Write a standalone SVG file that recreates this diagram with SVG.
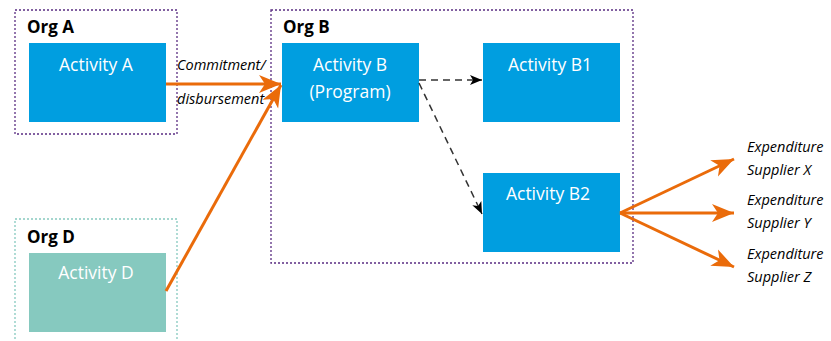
<svg xmlns="http://www.w3.org/2000/svg" width="831" height="341" viewBox="0 0 831 341">
<style>
.org{fill:none;stroke:#5a2d82;stroke-width:1.3;stroke-dasharray:2 2}
.orgd{fill:none;stroke:#86c9bf;stroke-width:1.3;stroke-dasharray:2 2}
.orgl{font-family:"Open Sans","Noto Sans",sans-serif;font-weight:bold;font-size:17px;fill:#000}
.act{fill:#009ee0}
.actd{fill:#86c9bf}
.actl{font-family:"Open Sans","Noto Sans",sans-serif;font-size:17.5px;fill:#fff;text-anchor:middle}
.lbl{font-family:"Open Sans","Noto Sans",sans-serif;font-style:italic;font-size:14.5px;fill:#000}
.flow{stroke:#ea6b0a;stroke-width:3;fill:none}
.dash{stroke:#333;stroke-width:1.5;stroke-dasharray:7 5;fill:none}
</style>
<defs>
<marker id="oh" markerUnits="userSpaceOnUse" markerWidth="24" markerHeight="20" refX="22" refY="9" orient="auto" viewBox="0 0 24 18">
<path d="M0,0 L22,9 L0,18 L6,9 z" fill="#ea6b0a"/>
</marker>
<marker id="bh" markerUnits="userSpaceOnUse" markerWidth="14" markerHeight="10" refX="12" refY="5" orient="auto" viewBox="0 0 14 10">
<path d="M0,0 L12,5 L0,10 L3,5 z" fill="#000"/>
</marker>
</defs>
<g id="orgA">
<rect class="org" x="15" y="10" width="162" height="124"/>
<text class="orgl" x="27" y="33">Org A</text>
</g>
<g id="orgB">
<rect class="org" x="271" y="10" width="362" height="253"/>
<text class="orgl" x="283" y="33">Org B</text>
</g>
<g id="orgD">
<rect class="orgd" x="15" y="219" width="162" height="130"/>
<text class="orgl" x="27" y="243">Org D</text>
</g>
<g id="activityA">
<rect class="act" x="29" y="43" width="137" height="79"/>
<text class="actl" x="96" y="71">Activity A</text>
</g>
<g id="activityB">
<rect class="act" x="282" y="43" width="137" height="79"/>
<text class="actl" x="350" y="71">Activity B</text>
<text class="actl" x="350" y="98">(Program)</text>
</g>
<g id="activityB1">
<rect class="act" x="483" y="43" width="137" height="79"/>
<text class="actl" x="550" y="71">Activity B1</text>
</g>
<g id="activityB2">
<rect class="act" x="483" y="173" width="137" height="79"/>
<text class="actl" x="548" y="200">Activity B2</text>
</g>
<g id="activityD">
<rect class="actd" x="29" y="253" width="137" height="79"/>
<text class="actl" x="96" y="279">Activity D</text>
</g>
<g id="connectors">
<line class="flow" x1="166" y1="84" x2="281" y2="84" marker-end="url(#oh)"/>
<line class="flow" x1="166" y1="291" x2="281" y2="85" marker-end="url(#oh)"/>
<line class="dash" x1="419" y1="80" x2="482" y2="80" marker-end="url(#bh)"/>
<line class="dash" x1="419" y1="83" x2="482" y2="214" marker-end="url(#bh)"/>
<line class="flow" x1="620" y1="213" x2="734" y2="159" marker-end="url(#oh)"/>
<line class="flow" x1="620" y1="213" x2="734" y2="213" marker-end="url(#oh)"/>
<line class="flow" x1="620" y1="213" x2="734" y2="267" marker-end="url(#oh)"/>
</g>
<g id="labels">
<text class="lbl" x="177" y="70">Commitment/</text>
<text class="lbl" x="177" y="104">disbursement</text>
<text class="lbl" x="747" y="152">Expenditure</text>
<text class="lbl" x="747" y="175">Supplier X</text>
<text class="lbl" x="747" y="205">Expenditure</text>
<text class="lbl" x="747" y="228">Supplier Y</text>
<text class="lbl" x="747" y="259">Expenditure</text>
<text class="lbl" x="747" y="282">Supplier Z</text>
</g>
</svg>
